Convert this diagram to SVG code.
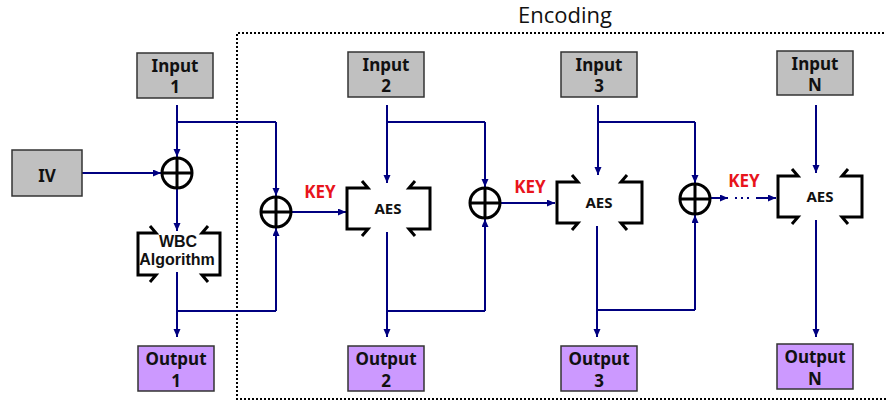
<svg xmlns="http://www.w3.org/2000/svg" width="886" height="403" viewBox="0 0 886 403">
<defs>
<style>
.in{fill:#c0c0c0;stroke:#333;stroke-width:1.5}
.out{fill:#cc99ff;stroke:#333;stroke-width:1.5}
.t{font-family:"Noto Sans","Liberation Sans",sans-serif;font-weight:bold;font-size:17px;fill:#111;text-anchor:middle}
.a{font-family:"Noto Sans","Liberation Sans",sans-serif;font-weight:bold;font-size:15px;fill:#111;text-anchor:middle}
.w{font-family:"Liberation Sans",Arial,sans-serif;font-weight:bold;font-size:16px;fill:#111;text-anchor:middle}
.key{font-family:"Noto Sans","Liberation Sans",sans-serif;font-weight:bold;font-size:17px;fill:#e8141c;text-anchor:middle}
.br{fill:none;stroke:#000;stroke-width:3;stroke-linejoin:miter}
.x{fill:#fff;stroke:#000;stroke-width:3}
.ln{fill:none;stroke:#000080;stroke-width:2}
.arr{marker-end:url(#ah)}
</style>
<marker id="ah" markerUnits="userSpaceOnUse" markerWidth="9" markerHeight="8" refX="8" refY="3.5" orient="auto">
<path d="M0,0 L8,3.5 L0,7 z" fill="#000080"/>
</marker>
</defs>
<rect width="886" height="403" fill="#fff"/>

<g id="encoding-frame">
<path d="M888,33 L237,33 L237,399 L888,399" fill="none" stroke="#000" stroke-width="2" stroke-dasharray="2 2"/>
<text x="565" y="23" font-family="'Open Sans','Noto Sans',sans-serif" font-size="22" fill="#111" text-anchor="middle">Encoding</text>
</g>

<g id="connectors">
<path class="ln arr" d="M177,105 L177,157"/>
<path class="ln" d="M177,122 L276,122"/>
<path class="ln arr" d="M276,122 L276,196"/>
<path class="ln arr" d="M82,173 L161,173"/>
<path class="ln arr" d="M177,188 L177,231"/>
<path class="ln arr" d="M177,272 L177,337"/>
<path class="ln" d="M177,311 L276,311"/>
<path class="ln arr" d="M276,311 L276,228"/>
<path class="ln arr" d="M291,212 L346,212"/>

<path class="ln arr" d="M387,105 L387,183"/>
<path class="ln" d="M387,122 L485,122"/>
<path class="ln arr" d="M485,122 L485,187"/>
<path class="ln arr" d="M387,232 L387,337"/>
<path class="ln" d="M387,311 L485,311"/>
<path class="ln arr" d="M485,311 L485,219"/>
<path class="ln arr" d="M500,203 L555,203"/>

<path class="ln arr" d="M598,105 L598,175"/>
<path class="ln" d="M598,122 L695,122"/>
<path class="ln arr" d="M695,122 L695,183"/>
<path class="ln arr" d="M597,226 L597,337"/>
<path class="ln" d="M597,310 L695,310"/>
<path class="ln arr" d="M695,310 L695,215"/>
<path class="ln arr" d="M710,198 L728,198"/>
<path d="M735,198 L751,198" stroke="#000080" stroke-width="2" stroke-dasharray="2 4"/>
<path class="ln arr" d="M756,198 L776,198"/>

<path class="ln arr" d="M816,105 L816,173"/>
<path class="ln arr" d="M816,220 L816,337"/>
</g>

<g id="iv"><rect class="in" x="12" y="150" width="70" height="46"/><text class="t" x="47" y="182" font-size="20">IV</text></g>

<g id="input1"><rect class="in" x="137" y="53" width="76" height="45"/><text class="t" x="175" y="72">Input</text><text class="t" x="175" y="93">1</text></g>
<g id="input2"><rect class="in" x="348" y="52" width="76" height="45"/><text class="t" x="386" y="71">Input</text><text class="t" x="386" y="92">2</text></g>
<g id="input3"><rect class="in" x="561" y="52" width="76" height="45"/><text class="t" x="599" y="71">Input</text><text class="t" x="599" y="92">3</text></g>
<g id="inputN"><rect class="in" x="777" y="51" width="76" height="44"/><text class="t" x="815" y="70">Input</text><text class="t" x="815" y="91">N</text></g>

<g id="output1"><rect class="out" x="138" y="346" width="76" height="45"/><text class="t" x="176" y="365">Output</text><text class="t" x="176" y="387">1</text></g>
<g id="output2"><rect class="out" x="348" y="346" width="76" height="45"/><text class="t" x="386" y="365">Output</text><text class="t" x="386" y="387">2</text></g>
<g id="output3"><rect class="out" x="561" y="346" width="76" height="45"/><text class="t" x="599" y="365">Output</text><text class="t" x="599" y="387">3</text></g>
<g id="outputN"><rect class="out" x="777" y="344" width="76" height="45"/><text class="t" x="815" y="363">Output</text><text class="t" x="815" y="385">N</text></g>

<g id="xor1"><circle class="x" cx="177" cy="173" r="15"/><path d="M162,173 H192 M177,158 V188" stroke="#000" stroke-width="3"/></g>
<g id="xor2"><circle class="x" cx="276" cy="212" r="15"/><path d="M261,212 H291 M276,197 V227" stroke="#000" stroke-width="3"/></g>
<g id="xor3"><circle class="x" cx="485" cy="203" r="15"/><path d="M470,203 H500 M485,188 V218" stroke="#000" stroke-width="3"/></g>
<g id="xor4"><circle class="x" cx="695" cy="199" r="15"/><path d="M680,199 H710 M695,184 V214" stroke="#000" stroke-width="3"/></g>

<g id="wbc">
<path class="br" d="M150,226 L156,233 L138,233 L138,275 L156,275 L150,282"/>
<path class="br" d="M208,226 L202,233 L220,233 L220,275 L202,275 L208,282"/>
<text class="w" x="178" y="247">WBC</text><text class="w" x="177" y="265">Algorithm</text>
</g>
<g id="aes2">
<path class="br" d="M362,181 L368,188 L347,188 L347,229 L368,229 L362,236"/>
<path class="br" d="M415,181 L409,188 L430,188 L430,229 L409,229 L415,236"/>
<text class="a" x="388" y="214">AES</text>
</g>
<g id="aes3">
<path class="br" d="M572,175 L578,182 L557,182 L557,223 L578,223 L572,230"/>
<path class="br" d="M627,175 L621,182 L642,182 L642,223 L621,223 L627,230"/>
<text class="a" x="599" y="208">AES</text>
</g>
<g id="aesN">
<path class="br" d="M792,169 L798,176 L778,176 L778,217 L798,217 L792,224"/>
<path class="br" d="M848,169 L842,176 L862,176 L862,217 L842,217 L848,224"/>
<text class="a" x="820" y="202">AES</text>
</g>

<g id="keys">
<text class="key" x="320" y="198">KEY</text>
<text class="key" x="530" y="193">KEY</text>
<text class="key" x="744" y="187">KEY</text>
</g>
</svg>
